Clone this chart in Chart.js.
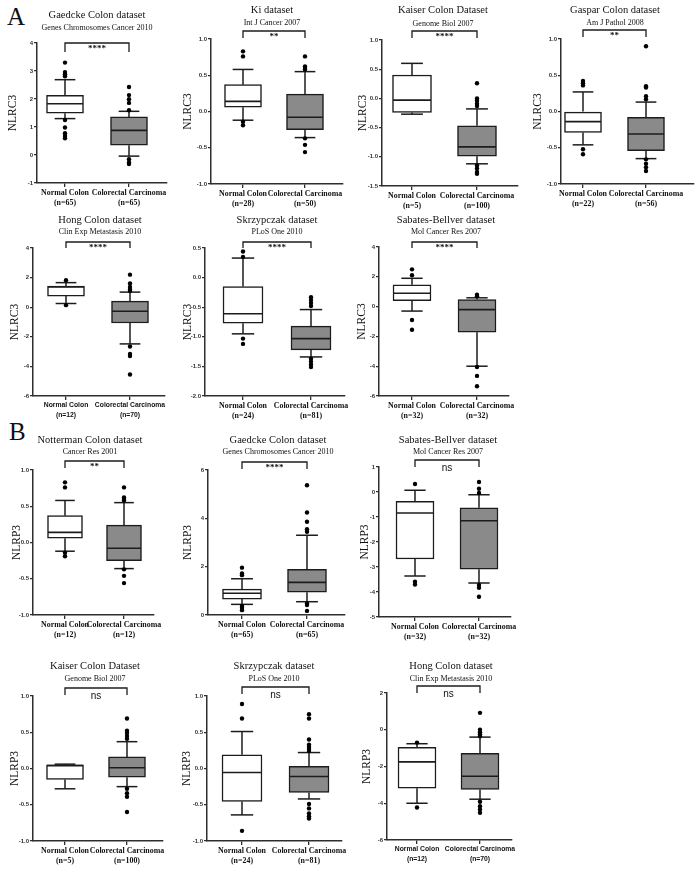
<!DOCTYPE html>
<html><head><meta charset="utf-8">
<script src="https://cdn.jsdelivr.net/npm/chart.js@4.4.1/dist/chart.umd.min.js"></script>
<style>
html,body{margin:0;padding:0;background:#fff;}
body{width:700px;height:869px;position:relative;overflow:hidden;}
.c{position:absolute;}
.panel{position:absolute;font-family:'Liberation Serif',serif;font-size:25px;line-height:25px;color:#111;}
</style></head><body>
<div class="panel" style="left:7px;top:4px">A</div>
<div class="panel" style="left:9px;top:419px">B</div>
<script>
// ---------- DATA ----------
const categories = ['Normal Colon', 'Colorectal Carcinoma'];

const panelATitles = ['Gaedcke Colon dataset', 'Ki dataset', 'Kaiser Colon Dataset', 'Gaspar Colon dataset', 'Hong Colon dataset', 'Skrzypczak dataset', 'Sabates-Bellver dataset'];
const panelASubtitles = ['Genes Chromosomes Cancer 2010', 'Int J Cancer 2007', 'Genome Biol 2007', 'Am J Pathol 2008', 'Clin Exp Metastasis 2010', 'PLoS One 2010', 'Mol Cancer Res 2007'];
const panelASig = ['****', '**', '****', '**', '****', '****', '****'];
const panelBTitles = ['Notterman Colon dataset', 'Gaedcke Colon dataset', 'Sabates-Bellver dataset', 'Kaiser Colon Dataset', 'Skrzypczak dataset', 'Hong Colon dataset'];
const panelBSubtitles = ['Cancer Res 2001', 'Genes Chromosomes Cancer 2010', 'Mol Cancer Res 2007', 'Genome Biol 2007', 'PLoS One 2010', 'Clin Exp Metastasis 2010'];
const panelBSig = ['**', '****', 'ns', 'ns', 'ns', 'ns'];

// box stats per category: [lower whisker, Q1, median, Q3, upper whisker]
const gaedckeNLRC3_stats = [[1.30, 1.49, 1.83, 2.13, 2.69], [-0.04, 0.35, 0.88, 1.36, 1.56]];
const gaedckeNLRC3_out = [[3.30, 2.96, 2.88, 2.81, 1.25, 0.98, 0.78, 0.68, 0.60], [2.43, 2.14, 1.99, 1.86, 1.60, -0.15, -0.27, -0.32]];
const gaedckeNLRC3_n = ['(n=65)', '(n=65)'];
const gaedckeNLRC3_y = [-1, 4, 1];

const kiNLRC3_stats = [[-0.12, 0.06, 0.14, 0.37, 0.58], [-0.36, -0.25, -0.08, 0.24, 0.55]];
const kiNLRC3_out = [[0.83, 0.76, -0.14, -0.19], [0.76, 0.62, 0.60, 0.58, -0.37, -0.46, -0.56]];
const kiNLRC3_n = ['(n=28)', '(n=50)'];
const kiNLRC3_y = [-1, 1, 0.5];

const kaiserNLRC3_stats = [[-0.27, -0.24, -0.03, 0.40, 0.60], [-1.12, -0.99, -0.83, -0.47, -0.18]];
const kaiserNLRC3_out = [[], [0.26, 0.00, -0.04, -0.09, -0.13, -1.15, -1.20, -1.26, -1.29]];
const kaiserNLRC3_n = ['(n=5)', '(n=100)'];
const kaiserNLRC3_y = [-1.5, 1, 0.5];

const gasparNLRC3_stats = [[-0.46, -0.29, -0.14, 0.00, 0.27], [-0.65, -0.54, -0.31, -0.08, 0.13]];
const gasparNLRC3_out = [[0.42, 0.39, 0.36, -0.52, -0.59], [0.90, 0.35, 0.33, 0.21, 0.17, -0.66, -0.72, -0.77, -0.82]];
const gasparNLRC3_n = ['(n=22)', '(n=56)'];
const gasparNLRC3_y = [-1, 1, 0.5];

const hongNLRC3_stats = [[0.25, 0.75, 1.36, 1.43, 1.66], [-2.48, -1.07, -0.27, 0.41, 1.02]];
const hongNLRC3_out = [[1.82, 0.14], [2.2, 1.6, 1.36, 1.2, 1.1, -2.66, -3.16, -3.3, -4.55]];
const hongNLRC3_n = ['(n=12)', '(n=70)'];
const hongNLRC3_y = [-6, 4, 2];

const skrzNLRC3_stats = [[-0.95, -0.77, -0.61, -0.15, 0.33], [-1.34, -1.22, -1.03, -0.82, -0.54]];
const skrzNLRC3_out = [[0.44, 0.35, -1.03, -1.12], [-0.33, -0.38, -0.43, -0.48, -1.37, -1.42, -1.47, -1.51]];
const skrzNLRC3_n = ['(n=24)', '(n=81)'];
const skrzNLRC3_y = [-2, 0.5, 0.5];

const sabatesNLRC3_stats = [[-0.3, 0.4, 0.9, 1.46, 1.9], [-4.0, -1.72, -0.2, 0.47, 0.59]];
const sabatesNLRC3_out = [[2.5, 2.1, -0.9, -1.55], [0.7, 0.8, -4.05, -4.65, -5.35]];
const sabatesNLRC3_n = ['(n=32)', '(n=32)'];
const sabatesNLRC3_y = [-6, 4, 2];

const nottermanNLRP3_stats = [[-0.12, 0.06, 0.14, 0.37, 0.58], [-0.36, -0.25, -0.08, 0.24, 0.55]];
const nottermanNLRP3_out = [[0.83, 0.76, -0.14, -0.19], [0.76, 0.62, 0.60, 0.58, -0.37, -0.46, -0.56]];
const nottermanNLRP3_n = ['(n=12)', '(n=12)'];
const nottermanNLRP3_y = [-1, 1, 0.5];

const gaedckeNLRP3_stats = [[0.44, 0.66, 0.9, 1.07, 1.5], [0.55, 0.94, 1.35, 1.89, 3.3]];
const gaedckeNLRP3_out = [[1.96, 1.72, 1.65, 0.37, 0.3, 0.2], [5.37, 4.24, 3.86, 3.55, 3.44, 0.48, 0.41, 0.17]];
const gaedckeNLRP3_n = ['(n=65)', '(n=65)'];
const gaedckeNLRP3_y = [0, 6, 2];

const sabatesNLRP3_stats = [[-3.36, -2.68, -0.84, -0.37, 0.07], [-3.64, -3.09, -1.15, -0.63, -0.11]];
const sabatesNLRP3_out = [[0.32, -3.59, -3.7], [0.4, 0.13, -0.04, -3.72, -3.83, -4.19]];
const sabatesNLRP3_n = ['(n=32)', '(n=32)'];
const sabatesNLRP3_y = [-5, 1, 1];

const kaiserNLRP3_stats = [[-0.28, -0.15, 0.04, 0.05, 0.06], [-0.25, -0.12, 0.01, 0.16, 0.37]];
const kaiserNLRP3_out = [[], [0.69, 0.52, 0.49, 0.45, 0.41, -0.28, -0.34, -0.39, -0.6]];
const kaiserNLRP3_n = ['(n=5)', '(n=100)'];
const kaiserNLRP3_y = [-1, 1, 0.5];

const skrzNLRP3_stats = [[-0.64, -0.455, -0.055, 0.19, 0.51], [-0.42, -0.33, -0.11, 0.03, 0.22]];
const skrzNLRP3_out = [[0.89, 0.69, -0.86], [0.75, 0.69, 0.4, 0.33, 0.3, 0.27, 0.24, -0.49, -0.55, -0.62, -0.66, -0.69]];
const skrzNLRP3_n = ['(n=24)', '(n=81)'];
const skrzNLRP3_y = [-1, 1, 0.5];

const hongNLRP3_stats = [[-4.0, -3.18, -1.75, -0.96, -0.76], [-3.78, -3.25, -2.53, -1.28, -0.4]];
const hongNLRP3_out = [[-0.7, -4.23], [0.92, 0.0, -0.13, -0.25, -0.36, -3.92, -4.16, -4.34, -4.52]];
const hongNLRP3_n = ['(n=12)', '(n=70)'];
const hongNLRP3_y = [-6, 2, 2];

// ---------- LAYOUT (pixel geometry, not data) ----------
const SERIF = '"Liberation Serif", "Times New Roman", serif';
const SANS = '"Liberation Sans", Arial, sans-serif';
const layouts = [
  {axisX:37, yTop:43, yBot:183, xEnd:167, c1:65, c2:129, bw:37, tX:97, tY:15, sY:28, bY:43, leg:9, off:24, sans:false},
  {axisX:211, yTop:39, yBot:184, xEnd:343, c1:243, c2:305, bw:37, tX:272, tY:10, sY:23, bY:31, leg:7, off:23, sans:false},
  {axisX:382, yTop:40, yBot:186, xEnd:518, c1:412, c2:477, bw:39, tX:443, tY:10, sY:24, bY:31, leg:7, off:19, sans:false},
  {axisX:561, yTop:39, yBot:184, xEnd:694, c1:583, c2:646, bw:37, tX:615, tY:10, sY:23, bY:30, leg:7, off:23, sans:false},
  {axisX:33, yTop:248, yBot:396, xEnd:165, c1:66, c2:130, bw:37, tX:100, tY:220, sY:232, bY:242, leg:6, off:18, sans:true},
  {axisX:205, yTop:248, yBot:396, xEnd:345, c1:243, c2:311, bw:40, tX:277, tY:220, sY:232, bY:242, leg:6, off:17, sans:false},
  {axisX:379, yTop:247, yBot:396, xEnd:509, c1:412, c2:477, bw:38, tX:446, tY:220, sY:232, bY:242, leg:6, off:17, sans:false},
  {axisX:33, yTop:470, yBot:615, xEnd:154, c1:65, c2:124, bw:35, tX:90, tY:440, sY:452, bY:461, leg:7, off:16, sans:false},
  {axisX:208, yTop:470, yBot:615, xEnd:345, c1:242, c2:307, bw:39, tX:278, tY:440, sY:452, bY:462, leg:7, off:20, sans:false},
  {axisX:379, yTop:467, yBot:617, xEnd:511, c1:415, c2:479, bw:38, tX:448, tY:440, sY:452, bY:460, leg:7, off:14, sans:false},
  {axisX:33, yTop:696, yBot:841, xEnd:163, c1:65, c2:127, bw:37, tX:95, tY:666, sY:679, bY:688, leg:7, off:18, sans:false},
  {axisX:207, yTop:696, yBot:841, xEnd:342, c1:242, c2:309, bw:40, tX:274, tY:666, sY:679, bY:687, leg:7, off:20, sans:false},
  {axisX:387, yTop:693, yBot:840, xEnd:512, c1:417, c2:480, bw:38, tX:451, tY:666, sY:679, bY:686, leg:7, off:20, sans:true}
];

const specs = [
  {stats:gaedckeNLRC3_stats, out:gaedckeNLRC3_out, n:gaedckeNLRC3_n, y:gaedckeNLRC3_y, dec:0, label:'NLRC3', title:panelATitles[0], sub:panelASubtitles[0], sig:panelASig[0]},
  {stats:kiNLRC3_stats, out:kiNLRC3_out, n:kiNLRC3_n, y:kiNLRC3_y, dec:1, label:'NLRC3', title:panelATitles[1], sub:panelASubtitles[1], sig:panelASig[1]},
  {stats:kaiserNLRC3_stats, out:kaiserNLRC3_out, n:kaiserNLRC3_n, y:kaiserNLRC3_y, dec:1, label:'NLRC3', title:panelATitles[2], sub:panelASubtitles[2], sig:panelASig[2]},
  {stats:gasparNLRC3_stats, out:gasparNLRC3_out, n:gasparNLRC3_n, y:gasparNLRC3_y, dec:1, label:'NLRC3', title:panelATitles[3], sub:panelASubtitles[3], sig:panelASig[3]},
  {stats:hongNLRC3_stats, out:hongNLRC3_out, n:hongNLRC3_n, y:hongNLRC3_y, dec:0, label:'NLRC3', title:panelATitles[4], sub:panelASubtitles[4], sig:panelASig[4]},
  {stats:skrzNLRC3_stats, out:skrzNLRC3_out, n:skrzNLRC3_n, y:skrzNLRC3_y, dec:1, label:'NLRC3', title:panelATitles[5], sub:panelASubtitles[5], sig:panelASig[5]},
  {stats:sabatesNLRC3_stats, out:sabatesNLRC3_out, n:sabatesNLRC3_n, y:sabatesNLRC3_y, dec:0, label:'NLRC3', title:panelATitles[6], sub:panelASubtitles[6], sig:panelASig[6]},
  {stats:nottermanNLRP3_stats, out:nottermanNLRP3_out, n:nottermanNLRP3_n, y:nottermanNLRP3_y, dec:1, label:'NLRP3', title:panelBTitles[0], sub:panelBSubtitles[0], sig:panelBSig[0]},
  {stats:gaedckeNLRP3_stats, out:gaedckeNLRP3_out, n:gaedckeNLRP3_n, y:gaedckeNLRP3_y, dec:0, label:'NLRP3', title:panelBTitles[1], sub:panelBSubtitles[1], sig:panelBSig[1]},
  {stats:sabatesNLRP3_stats, out:sabatesNLRP3_out, n:sabatesNLRP3_n, y:sabatesNLRP3_y, dec:0, label:'NLRP3', title:panelBTitles[2], sub:panelBSubtitles[2], sig:panelBSig[2]},
  {stats:kaiserNLRP3_stats, out:kaiserNLRP3_out, n:kaiserNLRP3_n, y:kaiserNLRP3_y, dec:1, label:'NLRP3', title:panelBTitles[3], sub:panelBSubtitles[3], sig:panelBSig[3]},
  {stats:skrzNLRP3_stats, out:skrzNLRP3_out, n:skrzNLRP3_n, y:skrzNLRP3_y, dec:1, label:'NLRP3', title:panelBTitles[4], sub:panelBSubtitles[4], sig:panelBSig[4]},
  {stats:hongNLRP3_stats, out:hongNLRP3_out, n:hongNLRP3_n, y:hongNLRP3_y, dec:0, label:'NLRP3', title:panelBTitles[5], sub:panelBSubtitles[5], sig:panelBSig[5]}
];

const INK = '#1c1c1c';
const AXIS = '#2e2e2e';
const GRAY = '#8a8a8a';

function makeDeco(L, D, left, top) {
  return {
    id: 'boxdeco',
    beforeDatasetsDraw(chart) {
      const {ctx, scales: {x, y}} = chart;
      ctx.save();
      ctx.strokeStyle = INK; ctx.lineWidth = 1.5; ctx.lineCap = 'butt';
      const cw = L.bw * 0.28;
      D.stats.forEach((s, i) => {
        const px = x.getPixelForValue(i + 1);
        const seg = (x1, y1, x2, y2) => { ctx.beginPath(); ctx.moveTo(x1, y1); ctx.lineTo(x2, y2); ctx.stroke(); };
        seg(px, y.getPixelForValue(s[3]), px, y.getPixelForValue(s[4]));
        seg(px - cw, y.getPixelForValue(s[4]), px + cw, y.getPixelForValue(s[4]));
        seg(px, y.getPixelForValue(s[1]), px, y.getPixelForValue(s[0]));
        seg(px - cw, y.getPixelForValue(s[0]), px + cw, y.getPixelForValue(s[0]));
      });
      ctx.restore();
    },
    afterDatasetsDraw(chart) {
      const {ctx, scales: {x, y}} = chart;
      ctx.save();
      ctx.strokeStyle = INK; ctx.lineWidth = 1.6;
      D.stats.forEach((s, i) => {
        const px = x.getPixelForValue(i + 1);
        const py = y.getPixelForValue(s[2]);
        ctx.beginPath(); ctx.moveTo(px - L.bw / 2 + 0.5, py); ctx.lineTo(px + L.bw / 2 - 0.5, py); ctx.stroke();
      });
      ctx.restore();
    },
    afterDraw(chart) {
      const {ctx, scales: {x}} = chart;
      ctx.save();
      ctx.fillStyle = '#111';
      ctx.textAlign = 'center'; ctx.textBaseline = 'middle';
      ctx.font = '10.5px ' + SERIF;
      ctx.fillText(D.title, L.tX - left, L.tY - top);
      ctx.font = '8px ' + SERIF;
      ctx.fillText(D.sub, L.tX - left, L.sY - top);
      const x1 = x.getPixelForValue(1), x2 = x.getPixelForValue(2);
      const by = L.bY - top;
      ctx.strokeStyle = INK; ctx.lineWidth = 1.3;
      ctx.beginPath();
      ctx.moveTo(x1, by + L.leg); ctx.lineTo(x1, by); ctx.lineTo(x2, by); ctx.lineTo(x2, by + L.leg);
      ctx.stroke();
      if (D.sig === 'ns') {
        ctx.font = '10px ' + SANS;
        ctx.fillText('ns', (x1 + x2) / 2, by + 8);
      } else {
        ctx.font = 'bold 9px ' + SERIF;
        ctx.textBaseline = 'top';
        ctx.fillText(D.sig, (x1 + x2) / 2, by + 1);
      }
      ctx.restore();
    }
  };
}

layouts.forEach((L, k) => {
  const D = specs[k];
  const yW = L.off + 7;
  const left = L.axisX - yW, top = L.tY - 12;
  const xH = 30, padR = 26;
  const width = L.xEnd + padR - left, height = L.yBot + xH - top;
  const div = document.createElement('div');
  div.className = 'c';
  div.style.left = left + 'px'; div.style.top = top + 'px';
  div.style.width = width + 'px'; div.style.height = height + 'px';
  const cv = document.createElement('canvas');
  cv.width = width; cv.height = height;
  cv.style.width = width + 'px'; cv.style.height = height + 'px';
  div.appendChild(cv); document.body.appendChild(div);

  const s = L.c2 - L.c1;
  const xMin = 1 - (L.c1 - L.axisX) / s;
  const xMax = 2 + (L.xEnd - L.c2) / s;
  const labFont = L.sans ? {family: SANS, size: 6.8, weight: 'bold', lineHeight: 1.35}
                         : {family: SERIF, size: 7.9, weight: 'bold', lineHeight: 1.25};

  const boxData = D.stats.map((st, i) => ({x: i + 1, y: [st[1], st[3]]}));
  const outData = [];
  D.out.forEach((arr, i) => arr.forEach(v => outData.push({x: i + 1, y: v})));

  new Chart(cv, {
    type: 'bar',
    data: {
      datasets: [
        {type: 'bar', data: boxData, backgroundColor: ['#ffffff', GRAY], borderColor: INK,
         borderWidth: 1.5, borderSkipped: false, barThickness: L.bw, order: 2},
        {type: 'scatter', data: outData, pointRadius: 2.2, pointHoverRadius: 2.2,
         backgroundColor: '#000', borderWidth: 0, order: 1}
      ]
    },
    options: {
      responsive: false, animation: false, devicePixelRatio: 1,
      layout: {padding: {top: L.yTop - top, right: padR, left: 0, bottom: 0}},
      plugins: {legend: {display: false}, tooltip: {enabled: false}},
      scales: {
        x: {
          type: 'linear', min: xMin, max: xMax, offset: false,
          afterBuildTicks: sc => { sc.ticks = [{value: 1}, {value: 2}]; },
          afterFit: sc => { sc.height = xH; },
          grid: {drawOnChartArea: false, offset: false, tickLength: 4, color: AXIS, lineWidth: 1.3},
          border: {display: true, color: AXIS, width: 1.5},
          ticks: {autoSkip: false, maxRotation: 0, padding: 1, color: '#111', font: labFont,
                  callback: (v, i) => [categories[i], D.n[i]]}
        },
        y: {
          type: 'linear', min: D.y[0], max: D.y[1],
          afterFit: sc => { sc.width = yW; },
          grid: {drawOnChartArea: false, tickLength: 3, color: AXIS, lineWidth: 1.2},
          border: {display: true, color: AXIS, width: 1.5},
          ticks: {stepSize: D.y[2], padding: 1, color: '#333',
                  font: {family: SANS, size: 6, weight: 'bold'},
                  callback: v => Number(v).toFixed(D.dec)},
          title: {display: true, text: D.label, color: '#111', padding: 0,
                  font: {family: SERIF, size: 11.5}}
        }
      }
    },
    plugins: [makeDeco(L, D, left, top)]
  });
});
</script>
</body></html>
